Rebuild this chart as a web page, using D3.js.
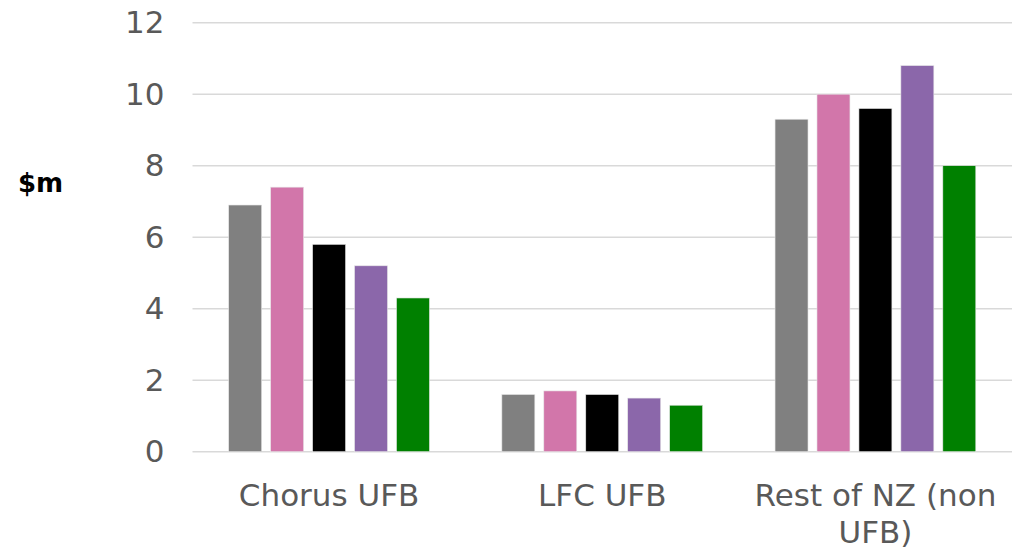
<!DOCTYPE html>
<html>
<head>
<meta charset="utf-8">
<script src="https://cdn.jsdelivr.net/npm/d3@7"></script>
<style>
  body { margin: 0; background: #fff; }
  svg { display: block; font-family: "DejaVu Sans", Verdana, sans-serif; }
  .tick text { fill: #595959; }
</style>
</head>
<body>
<svg width="1012" height="551"></svg>
<script>
const categories = ["Chorus UFB", "LFC UFB", "Rest of NZ (non UFB)"];
const seriesNames = ["s1", "s2", "s3", "s4", "s5"];
const seriesColours = ["#808080", "#d276aa", "#000000", "#8b67aa", "#008000"];
const values = [
  [6.9, 7.4, 5.8, 5.2, 4.3],
  [1.6, 1.7, 1.6, 1.5, 1.3],
  [9.3, 10.0, 9.6, 10.8, 8.0]
];
const yTicks = [0, 2, 4, 6, 8, 10, 12];
const yLabel = "$m";

const svg = d3.select("svg");
const margin = { top: 22.7, right: 0, bottom: 99.3, left: 192.5 };
const width = 1012 - margin.left - margin.right;
const height = 551 - margin.top - margin.bottom;

const g = svg.append("g").attr("transform", `translate(${margin.left},${margin.top})`);

const x0 = d3.scaleBand().domain(categories).range([0, width]).padding(0);
const x1 = d3.scaleBand().domain(seriesNames).range([0, x0.bandwidth()])
  .paddingInner(0.214).paddingOuter(0.863);
const y = d3.scaleLinear().domain([0, 12]).range([height, 0]);

// gridlines
g.append("g")
  .selectAll("line")
  .data(yTicks)
  .join("line")
  .attr("x1", 0)
  .attr("x2", width)
  .attr("y1", (d) => y(d))
  .attr("y2", (d) => y(d))
  .attr("stroke", "#d9d9d9")
  .attr("stroke-width", 1.5);

// y axis labels
const yAxis = g.append("g")
  .call(d3.axisLeft(y).tickValues(yTicks).tickSize(0).tickPadding(28));
yAxis.select(".domain").remove();
yAxis.selectAll("text").attr("font-size", 31).attr("font-family", "DejaVu Sans, Verdana, sans-serif");

// bars
const groups = g.append("g")
  .selectAll("g")
  .data(categories)
  .join("g")
  .attr("transform", (d) => `translate(${x0(d)},0)`);

groups.selectAll("rect")
  .data((d, i) => values[i].map((v, j) => ({ key: seriesNames[j], value: v, colour: seriesColours[j] })))
  .join("rect")
  .attr("x", (d) => x1(d.key))
  .attr("y", (d) => y(d.value))
  .attr("width", x1.bandwidth())
  .attr("height", (d) => y(0) - y(d.value))
  .attr("fill", (d) => d.colour)
  .attr("stroke", "#e6e6e6")
  .attr("stroke-width", 0.6);

// x axis labels
const xAxis = g.append("g")
  .attr("transform", `translate(0,${height})`)
  .call(d3.axisBottom(x0).tickSize(0).tickPadding(32));
xAxis.select(".domain").remove();
xAxis.selectAll("text")
  .attr("font-size", 31)
  .attr("font-family", "DejaVu Sans, Verdana, sans-serif")
  .call(wrap, x0.bandwidth() - 10);

function wrap(text, maxWidth) {
  text.each(function () {
    const t = d3.select(this);
    const words = t.text().split(/\s+/);
    const yPos = t.attr("y");
    const dy = parseFloat(t.attr("dy"));
    t.text(null);
    let line = [];
    let lineNo = 0;
    let tspan = t.append("tspan").attr("x", 0).attr("y", yPos).attr("dy", dy + "em");
    words.forEach((w) => {
      line.push(w);
      tspan.text(line.join(" "));
      if (tspan.node().getComputedTextLength() > maxWidth && line.length > 1) {
        line.pop();
        tspan.text(line.join(" "));
        line = [w];
        lineNo++;
        tspan = t.append("tspan").attr("x", 0).attr("y", yPos)
          .attr("dy", lineNo * 1.2 + dy + "em").text(w);
      }
    });
  });
}

// y label
svg.append("text")
  .attr("x", 18)
  .attr("y", 192)
  .attr("font-size", 26)
  .attr("font-weight", "bold")
  .attr("fill", "#000")
  .text(yLabel);
</script>
</body>
</html>
